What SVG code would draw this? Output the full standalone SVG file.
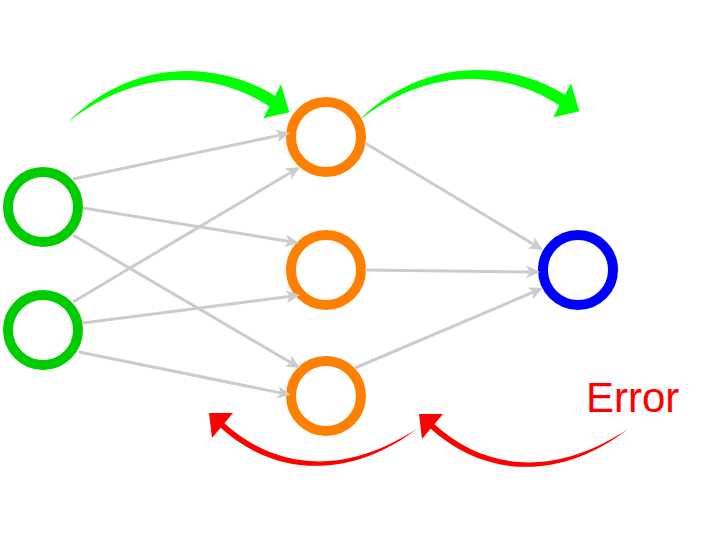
<svg xmlns="http://www.w3.org/2000/svg" width="720" height="542" viewBox="0 0 720 542">
  <defs>
    <marker id="ah" viewBox="0 0 14 13" refX="11" refY="6.5" markerWidth="14" markerHeight="13" markerUnits="userSpaceOnUse" orient="auto">
      <path d="M0,0 L14,6.5 L0,13 L3.8,6.5 Z" fill="#cccccc"/>
    </marker>
    <style>
      .edge { stroke: #cccccc; stroke-width: 3; fill: none; marker-end: url(#ah); }
      .node { fill: none; stroke-width: 10; }
      .in { stroke: #00cc00; }
      .hid { stroke: #ff8000; }
      .out { stroke: #0000ff; }
      .fwd { fill: #00ff00; }
      .back { fill: #ff0000; }
      .lbl { font-family: "Liberation Sans", Arial, sans-serif; font-size: 42px; fill: #ff0000; }
    </style>
  </defs>
  <rect width="720" height="542" fill="#ffffff"/>

  <g id="input1"><circle class="node in" cx="43" cy="207" r="35"/></g>
  <g id="input2"><circle class="node in" cx="43" cy="330" r="35"/></g>
  <g id="hidden1"><circle class="node hid" cx="326" cy="137" r="35"/></g>
  <g id="hidden2"><circle class="node hid" cx="326" cy="270" r="35"/></g>
  <g id="hidden3"><circle class="node hid" cx="326" cy="396" r="35"/></g>
  <g id="output"><circle class="node out" cx="578" cy="270" r="35"/></g>

  <g id="connectors">
    <line class="edge" x1="73" y1="179" x2="287.1" y2="133.6"/>
    <line class="edge" x1="83" y1="208" x2="296" y2="242.5"/>
    <line class="edge" x1="73" y1="235" x2="297.4" y2="366.5"/>
    <line class="edge" x1="73" y1="302" x2="297.4" y2="168.5"/>
    <line class="edge" x1="83" y1="323" x2="297" y2="295.4"/>
    <line class="edge" x1="79" y1="352" x2="288.1" y2="394.4"/>
    <line class="edge" x1="365" y1="143" x2="540.4" y2="248.5"/>
    <line class="edge" x1="365" y1="270" x2="537" y2="272"/>
    <line class="edge" x1="355" y1="368" x2="540.2" y2="289.2"/>
  </g>

  <g id="forward-arrows">
    <g id="fwd1" class="fwd">
      <path d="M68,122 C134.5,55.5 221.9,61.7 276.5,96.8 L270.9,107.4 C216.4,71.2 140,66 68,122 Z"/>
      <polygon points="281,84.3 289.3,112.3 263.3,118.3"/>
    </g>
    <g id="fwd2" class="fwd" transform="translate(290,-1)">
      <path d="M68,122 C134.5,55.5 221.9,61.7 276.5,96.8 L270.9,107.4 C216.4,71.2 140,66 68,122 Z"/>
      <polygon points="281,84.3 289.3,112.3 263.3,118.3"/>
    </g>
  </g>

  <g id="backward-arrows">
    <g id="back1" class="back">
      <path d="M219,426.3 C277.8,480.5 355,477 418,428 C353,471 281.8,476 223,422 Z"/>
      <polygon points="233,413 209,413 212,438"/>
    </g>
    <g id="back2" class="back" transform="translate(210,1)">
      <path d="M219,426.3 C277.8,480.5 355,477 418,428 C353,471 281.8,476 223,422 Z"/>
      <polygon points="233,413 209,413 212,438"/>
    </g>
  </g>

  <g id="error-label">
    <text class="lbl" x="586" y="412">Error</text>
  </g>
</svg>
